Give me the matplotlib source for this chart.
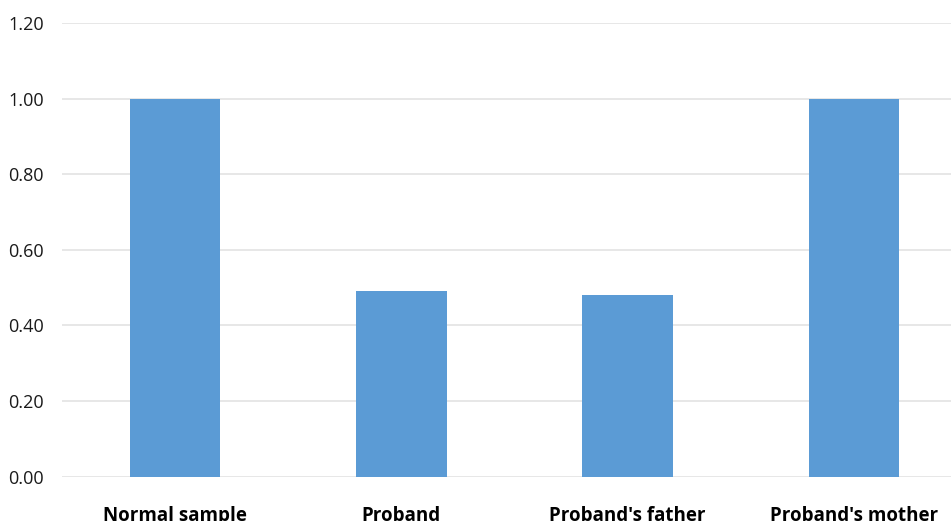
import matplotlib
matplotlib.use("Agg")
import matplotlib.pyplot as plt

categories = ["Normal sample", "Proband", "Proband's father", "Proband's mother"]
values = [1.00, 0.49, 0.48, 1.00]
yticks = [0.0, 0.2, 0.4, 0.6, 0.8, 1.0, 1.2]

plt.rcParams['font.family'] = ['Open Sans', 'DejaVu Sans']

fig = plt.figure(figsize=(9.51, 5.21), dpi=100)
ax = fig.add_axes([62 / 951, 44.3 / 521, (967 - 62) / 951, (476.7 - 23) / 521])

x = list(range(len(categories)))
ax.bar(x, values, width=0.40, color="#5b9bd5", zorder=3)

ax.set_xlim(-0.5, 3.5)
ax.set_ylim(0, 1.2)
ax.set_yticks(yticks)
ax.set_yticklabels(["%.2f" % v for v in yticks], fontsize=13, color="#1a1a1a")
ax.set_xticks(x)
ax.set_xticklabels(categories, fontsize=13.5, fontweight="bold", color="black")
ax.tick_params(axis="y", length=0, pad=13)
ax.tick_params(axis="x", length=0, pad=21)

ax.grid(axis="y", color="#e3e3e3", linewidth=1.2, zorder=0)
for s in ax.spines.values():
    s.set_visible(False)

fig.savefig("out.png", dpi=100)
